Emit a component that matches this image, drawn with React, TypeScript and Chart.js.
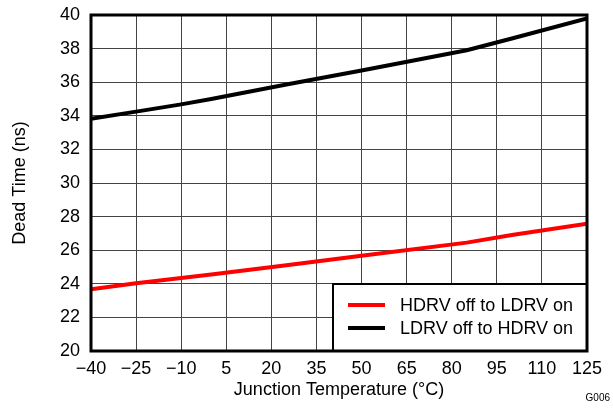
import React, { useEffect, useRef } from "react";
import { Chart, registerables } from "chart.js";

Chart.register(...registerables);

const temps = [-40, -25, -10, 0, 25, 50, 85, 100, 125];
const hdrvOffLdrvOn = [23.68, 24.03, 24.35, 24.56, 25.1, 25.67, 26.45, 26.9, 27.58];
const ldrvOffHdrvOn = [33.82, 34.25, 34.68, 35.0, 35.86, 36.7, 37.9, 38.6, 39.8];
const seriesLabels = ["HDRV off to LDRV on", "LDRV off to HDRV on"];
const seriesColors = ["#ff0000", "#000000"];
const xTitle = "Junction Temperature (°C)";
const yTitle = "Dead Time (ns)";
const figureId = "G006";

const FONT = "'Liberation Sans', Arial, sans-serif";

const framePlugin = {
  id: "frameAndLegend",
  afterDraw(chart: any) {
    const { ctx, chartArea } = chart;
    const { left, right, top, bottom } = chartArea;
    ctx.save();
    // legend box
    const bw = 254;
    const bh = 67;
    const bx = right - bw;
    const by = bottom - bh;
    ctx.fillStyle = "#fff";
    ctx.fillRect(bx, by, bw, bh);
    ctx.lineWidth = 2;
    ctx.strokeStyle = "#000";
    ctx.strokeRect(bx, by, bw, bh);

    // frame
    ctx.lineWidth = 3;
    ctx.strokeRect(left, top, right - left, bottom - top);

    ctx.font = `18px ${FONT}`;
    ctx.textBaseline = "middle";
    ctx.textAlign = "left";
    chart.data.datasets.forEach((ds: any, i: number) => {
      const y = by + 21 + i * 23;
      ctx.strokeStyle = ds.borderColor;
      ctx.lineWidth = 4;
      ctx.beginPath();
      ctx.moveTo(bx + 15, y);
      ctx.lineTo(bx + 52, y);
      ctx.stroke();
      ctx.fillStyle = "#000";
      ctx.fillText(ds.label, bx + 67, y + 1);
    });

    // figure id
    ctx.font = `10px ${FONT}`;
    ctx.textAlign = "right";
    ctx.fillStyle = "#000";
    ctx.fillText(figureId, 610, 398);
    ctx.restore();
  },
};

export default function App() {
  const ref = useRef<HTMLCanvasElement>(null);

  useEffect(() => {
    if (!ref.current) return;
    const datasets = [hdrvOffLdrvOn, ldrvOffHdrvOn].map((vals, i) => ({
      label: seriesLabels[i],
      data: temps.map((t, j) => ({ x: t, y: vals[j] })),
      borderColor: seriesColors[i],
      backgroundColor: seriesColors[i],
      borderWidth: 4,
      pointRadius: 0,
      tension: 0,
      fill: false,
    }));
    const chart = new Chart(ref.current, {
      type: "line",
      data: { datasets },
      plugins: [framePlugin],
      options: {
        animation: false,
        responsive: false,
        devicePixelRatio: 1,
        layout: { padding: { top: 15, right: 26, left: 0, bottom: 0 } },
        plugins: {
          legend: { display: false },
          tooltip: { enabled: false },
        },
        scales: {
          x: {
            type: "linear",
            min: -40,
            max: 125,
            border: { display: false },
            grid: { color: "#444", lineWidth: 1, drawTicks: false },
            ticks: {
              stepSize: 15,
              color: "#000",
              padding: 7,
              maxRotation: 0,
              autoSkip: false,
              font: { family: FONT, size: 18 },
              callback: (v: any) => String(v).replace("-", "\u2212"),
            },
            title: {
              display: true,
              text: xTitle,
              color: "#000",
              font: { family: FONT, size: 18 },
              padding: { top: 0, bottom: 8 },
            },
            afterFit: (s: any) => {
              s.height = 58;
              s.paddingLeft = 0;
              s.paddingRight = 0;
            },
          },
          y: {
            min: 20,
            max: 40,
            border: { display: false },
            grid: { color: "#444", lineWidth: 1, drawTicks: false },
            ticks: {
              stepSize: 2,
              color: "#000",
              padding: 11,
              font: { family: FONT, size: 18 },
            },
            title: {
              display: true,
              text: yTitle,
              color: "#000",
              font: { family: FONT, size: 18 },
              padding: { top: 9, bottom: 0 },
            },
            afterFit: (s: any) => {
              s.width = 91;
              s.paddingTop = 0;
              s.paddingBottom = 0;
            },
          },
        },
      },
    });
    return () => chart.destroy();
  }, []);

  return (
    <div style={{ position: "absolute", left: 0, top: 0, width: 613, height: 409, background: "#fff" }}>
      <canvas ref={ref} width={613} height={409} />
    </div>
  );
}
